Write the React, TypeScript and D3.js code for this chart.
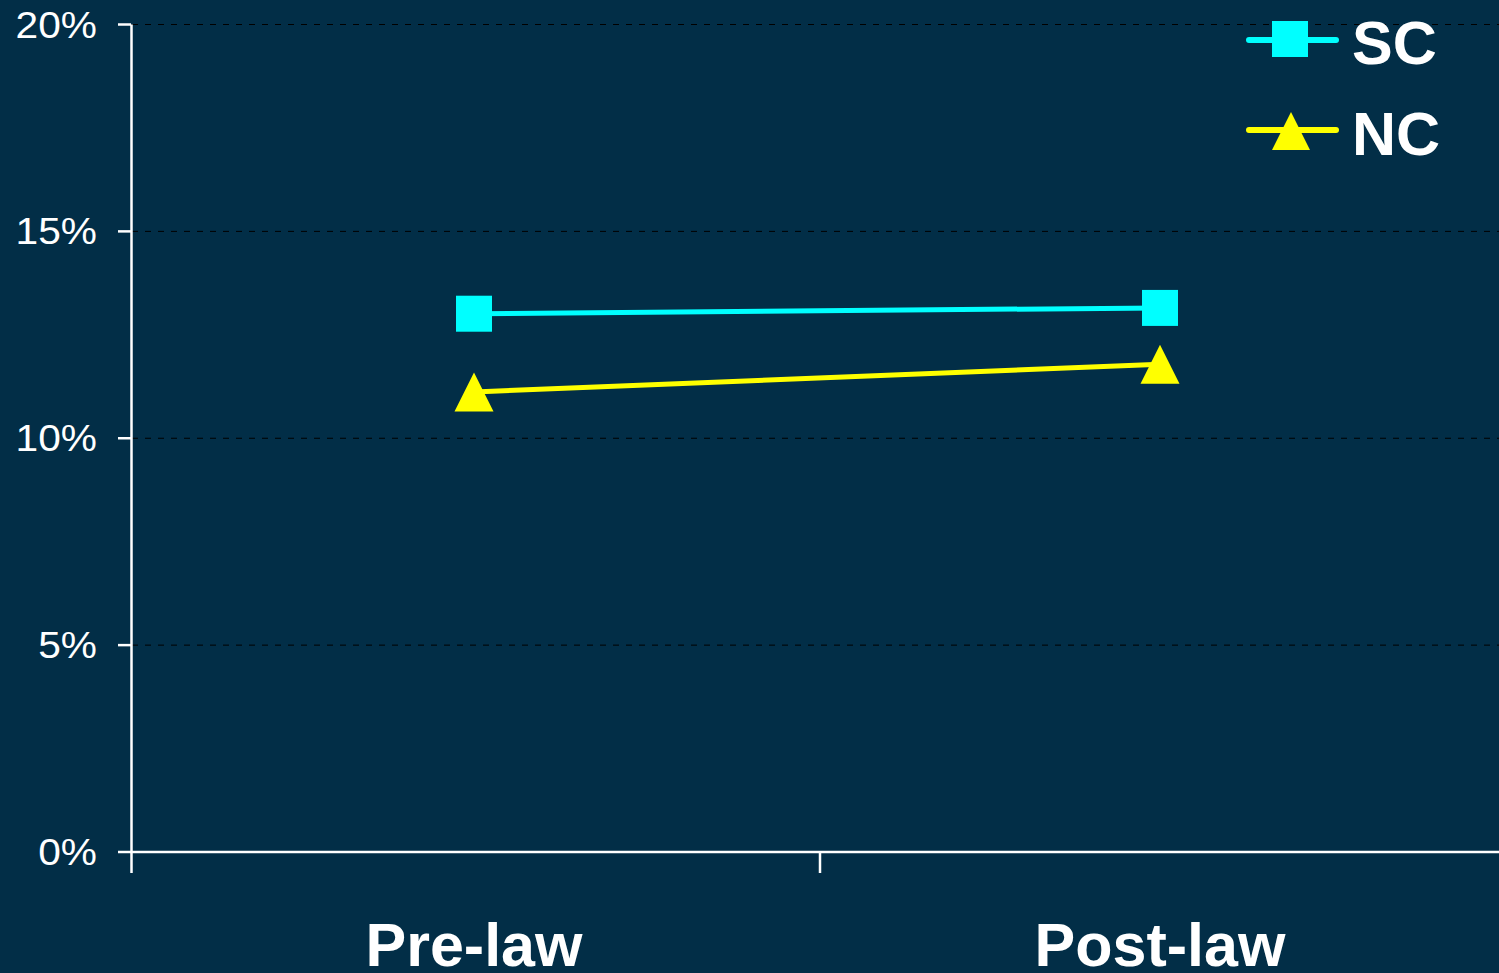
import React from "react";
import * as d3 from "d3";

const categories = ["Pre-law", "Post-law"];
const scValues = [13.01, 13.15];
const ncValues = [11.12, 11.79];
const yTicks = [0, 5, 10, 15, 20];
const seriesNames = ["SC", "NC"];

const W = 1499;
const H = 973;
const BG = "#022e47";

export default function App() {
  const x = d3.scaleBand<string>().domain(categories).range([131, 1503]).paddingInner(0).paddingOuter(0);
  const y = d3.scaleLinear().domain([0, 20]).range([852, 24.5]);
  const cx = (c: string) => (x(c) ?? 0) + x.bandwidth() / 2;

  const line = d3
    .line<number>()
    .x((_, i) => cx(categories[i]))
    .y((v) => y(v));

  const tri = (px: number, py: number, s: number) =>
    `M${px},${py - s * 0.5}L${px + s * 0.5},${py + s * 0.5}L${px - s * 0.5},${py + s * 0.5}Z`;

  const boundaries = [x.range()[0], ...categories.slice(1).map((c) => x(c) ?? 0)];

  return (
    <svg width={W} height={H} style={{ display: "block", position: "absolute", left: 0, top: 0 }}>
      <rect x={0} y={0} width={W} height={H} fill={BG} />
      {/* gridlines */}
      {yTicks
        .filter((t) => t > 0)
        .map((t) => (
          <line
            key={"g" + t}
            x1={132}
            x2={W}
            y1={y(t)}
            y2={y(t)}
            stroke="#000"
            strokeWidth={1}
            strokeDasharray="6,7"
          />
        ))}
      {/* y axis */}
      <line x1={131.5} x2={131.5} y1={y(20)} y2={873} stroke="#fff" strokeWidth={2.5} />
      {yTicks.map((t) => (
        <g key={"t" + t}>
          <line x1={118} x2={131} y1={y(t)} y2={y(t)} stroke="#fff" strokeWidth={2.5} />
          <text
            transform={`translate(97,${y(t) + 13}) scale(1.13,1)`}
            textAnchor="end"
            fill="#fff"
            fontFamily="Liberation Sans, Arial, sans-serif"
            fontSize={36}
          >
            {t + "%"}
          </text>
        </g>
      ))}
      {/* x axis */}
      <line x1={131} x2={W} y1={852} y2={852} stroke="#fff" strokeWidth={2.5} />
      {boundaries.slice(1).map((b, i) => (
        <line key={"xb" + i} x1={b + 3} x2={b + 3} y1={852} y2={873} stroke="#fff" strokeWidth={2.5} />
      ))}
      {categories.map((c) => (
        <text
          key={c}
          x={cx(c)}
          y={966}
          textAnchor="middle"
          fill="#fff"
          fontFamily="Liberation Sans, Arial, sans-serif"
          fontWeight="bold"
          fontSize={61}
        >
          {c}
        </text>
      ))}
      {/* SC series */}
      <path d={line(scValues) ?? ""} fill="none" stroke="#00ffff" strokeWidth={5} />
      {scValues.map((v, i) => (
        <rect key={"sc" + i} x={cx(categories[i]) - 18} y={y(v) - 18} width={36} height={36} fill="#00ffff" />
      ))}
      {/* NC series */}
      <path d={line(ncValues) ?? ""} fill="none" stroke="#ffff00" strokeWidth={5} />
      {ncValues.map((v, i) => (
        <path key={"nc" + i} d={tri(cx(categories[i]), y(v), 39)} fill="#ffff00" />
      ))}
      {/* legend */}
      <g>
        <line x1={1249} x2={1336} y1={40} y2={40} stroke="#00ffff" strokeWidth={6} strokeLinecap="round" />
        <rect x={1272} y={21} width={36} height={36} fill="#00ffff" />
        <text
          x={1352}
          y={64}
          fill="#fff"
          fontFamily="Liberation Sans, Arial, sans-serif"
          fontWeight="bold"
          fontSize={61}
        >
          {seriesNames[0]}
        </text>
        <line x1={1249} x2={1336} y1={130} y2={130} stroke="#ffff00" strokeWidth={6} strokeLinecap="round" />
        <path d={tri(1291, 131, 38)} fill="#ffff00" />
        <text
          x={1352}
          y={155}
          fill="#fff"
          fontFamily="Liberation Sans, Arial, sans-serif"
          fontWeight="bold"
          fontSize={61}
        >
          {seriesNames[1]}
        </text>
      </g>
    </svg>
  );
}
